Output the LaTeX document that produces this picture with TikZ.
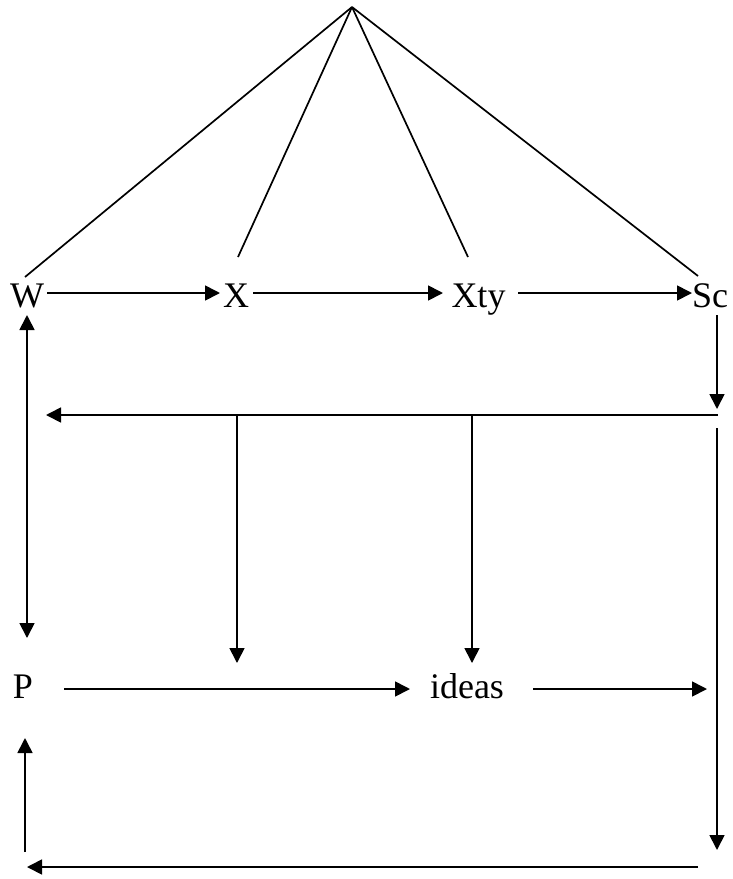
\documentclass[tikz,border=0pt]{standalone}
\usepackage{fontspec}
\setmainfont{Liberation Serif}
\usetikzlibrary{arrows.meta}
\begin{document}
\begin{tikzpicture}[x=1pt,y=-1pt,
  lbl/.style={anchor=base,inner sep=0pt,font=\fontsize{36}{40}\selectfont},
  ln/.style={line width=1.7pt},
  arr/.style={ln,-{Triangle[length=15pt,width=15pt]}},
  darr/.style={ln,{Triangle[length=15pt,width=15pt]}-{Triangle[length=15pt,width=15pt]}}]
\useasboundingbox (0,0) rectangle (733,879);
% text nodes
\node[lbl] (W) at (27,307) {W};
\node[lbl] (X) at (236,307) {X};
\node[lbl] (Xty) at (478.5,307) {Xty};
\node[lbl] (Sc) at (710,307) {Sc};
\node[lbl] (P) at (23,698) {P};
\node[lbl] (ideas) at (467,698) {ideas};
% coordinates
\coordinate (apex) at (352,7);
\coordinate (tW) at (25,277);
\coordinate (tX) at (238,257);
\coordinate (tXty) at (468,257);
\coordinate (tSc) at (698,276);
\coordinate (a1s) at (47,293); \coordinate (a1e) at (220,293);
\coordinate (a2s) at (253,293); \coordinate (a2e) at (443,293);
\coordinate (a3s) at (518,293); \coordinate (a3e) at (692,293);
\coordinate (wpT) at (27,315); \coordinate (wpB) at (27,638);
\coordinate (scS) at (717,315); \coordinate (scE) at (717,409);
\coordinate (hR) at (718,415); \coordinate (hL) at (46,415);
\coordinate (dXs) at (237,415); \coordinate (dXe) at (237,663);
\coordinate (dYs) at (472,415); \coordinate (dYe) at (472,663);
\coordinate (rS) at (717,428); \coordinate (rE) at (717,850);
\coordinate (pS) at (64,689); \coordinate (pE) at (410,689);
\coordinate (iS) at (533,689); \coordinate (iE) at (707,689);
\coordinate (uS) at (25,852); \coordinate (uE) at (25,738);
\coordinate (bS) at (698,867); \coordinate (bE) at (27,867);
% connectors
\draw[ln] (apex) -- (tW);
\draw[ln] (apex) -- (tX);
\draw[ln] (apex) -- (tXty);
\draw[ln] (apex) -- (tSc);
\draw[arr] (a1s) -- (a1e);
\draw[arr] (a2s) -- (a2e);
\draw[arr] (a3s) -- (a3e);
\draw[darr] (wpT) -- (wpB);
\draw[arr] (scS) -- (scE);
\draw[arr] (hR) -- (hL);
\draw[arr] (dXs) -- (dXe);
\draw[arr] (dYs) -- (dYe);
\draw[arr] (rS) -- (rE);
\draw[arr] (pS) -- (pE);
\draw[arr] (iS) -- (iE);
\draw[arr] (uS) -- (uE);
\draw[arr] (bS) -- (bE);
\end{tikzpicture}
\end{document}
